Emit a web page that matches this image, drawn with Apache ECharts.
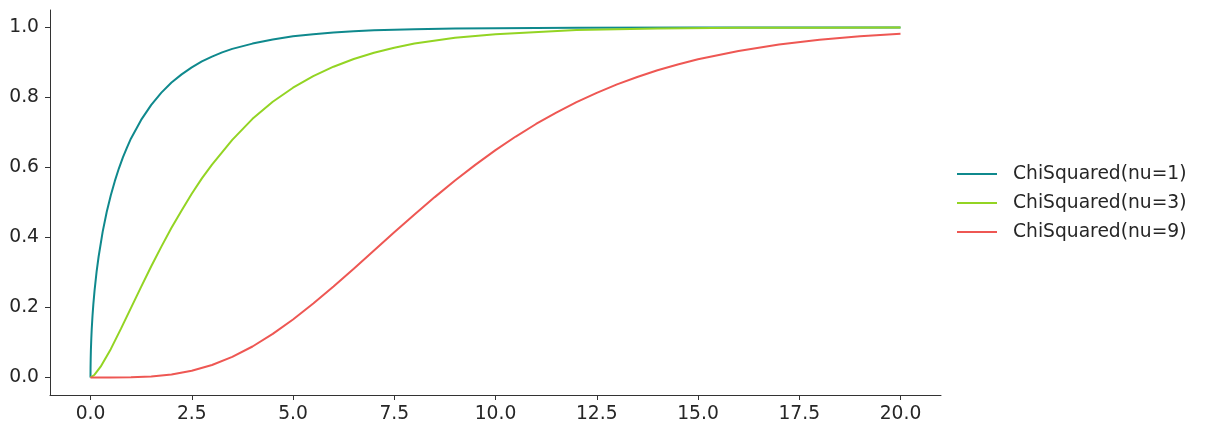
<!DOCTYPE html>
<html>
<head>
<meta charset="utf-8">
<script src="https://cdn.jsdelivr.net/npm/echarts@6/dist/echarts.min.js"></script>
<style>html,body{margin:0;padding:0;background:#fff}#c{width:1206px;height:434px}</style>
</head>
<body>
<div id="c"></div>
<script>
const seriesNames = ['ChiSquared(nu=1)', 'ChiSquared(nu=3)', 'ChiSquared(nu=9)'];
const colors = ['#0f898d', '#93d423', '#ee5753'];
const xTicks = [0, 2.5, 5, 7.5, 10, 12.5, 15, 17.5, 20];
const yTicks = [0, 0.2, 0.4, 0.6, 0.8, 1.0];

const x1 = [0, 0.001, 0.005, 0.01, 0.02, 0.03, 0.05, 0.07, 0.1, 0.15, 0.2, 0.3, 0.4, 0.5, 0.6, 0.7, 0.8, 0.9, 1, 1.25, 1.5, 1.75, 2, 2.25, 2.5, 2.75, 3, 3.25, 3.5, 4, 4.5, 5, 5.5, 6, 6.5, 7, 8, 9, 10, 12, 15, 20];
const y1 = [0, 0.025, 0.056, 0.080, 0.112, 0.138, 0.177, 0.209, 0.248, 0.302, 0.345, 0.416, 0.473, 0.520, 0.561, 0.597, 0.629, 0.657, 0.683, 0.736, 0.779, 0.814, 0.843, 0.866, 0.886, 0.903, 0.917, 0.929, 0.939, 0.954, 0.966, 0.975, 0.981, 0.986, 0.989, 0.992, 0.995, 0.997, 0.998, 0.9995, 0.9999, 1.0];

const x3 = [0, 0.1, 0.25, 0.5, 0.75, 1, 1.25, 1.5, 1.75, 2, 2.25, 2.5, 2.75, 3, 3.5, 4, 4.5, 5, 5.5, 6, 6.5, 7, 7.5, 8, 9, 10, 12, 14, 16, 18, 20];
const y3 = [0, 0.008, 0.031, 0.081, 0.139, 0.199, 0.259, 0.318, 0.374, 0.428, 0.477, 0.525, 0.569, 0.608, 0.679, 0.739, 0.788, 0.828, 0.861, 0.888, 0.910, 0.928, 0.942, 0.954, 0.971, 0.981, 0.993, 0.997, 0.999, 0.9996, 0.9998];

const x9 = [0, 0.5, 1, 1.5, 2, 2.5, 3, 3.5, 4, 4.5, 5, 5.5, 6, 6.5, 7, 7.5, 8, 8.5, 9, 9.5, 10, 10.5, 11, 11.5, 12, 12.5, 13, 13.5, 14, 14.5, 15, 16, 17, 18, 19, 20];
const y9 = [0, 0.0000, 0.0006, 0.0029, 0.0085, 0.0191, 0.0357, 0.0588, 0.0886, 0.1245, 0.1657, 0.2112, 0.2601, 0.3110, 0.3629, 0.4148, 0.4659, 0.5154, 0.5627, 0.6075, 0.6495, 0.6885, 0.7243, 0.7570, 0.7867, 0.8134, 0.8374, 0.8587, 0.8777, 0.8944, 0.9091, 0.9331, 0.9513, 0.9648, 0.9748, 0.9821];

const pairs = (xs, ys) => xs.map((x, i) => [x, ys[i]]);
const data = [pairs(x1, y1), pairs(x3, y3), pairs(x9, y9)];

const font = 'DejaVu Sans';
const fs = 18.7;
const chart = echarts.init(document.getElementById('c'), null, {renderer: 'canvas'});
chart.setOption({
  animation: false,
  backgroundColor: '#ffffff',
  grid: {left: 50, top: 10, width: 891, height: 385, containLabel: false},
  xAxis: {
    type: 'value', min: -1, max: 21,
    axisLine: {show: true, onZero: false, lineStyle: {color: '#333333', width: 1}},
    axisTick: {show: true, length: 5, lineStyle: {color: '#333333'}, customValues: xTicks},
    axisLabel: {color: '#262626', fontFamily: font, fontSize: fs, margin: 10, customValues: xTicks,
      formatter: v => v.toFixed(1)},
    splitLine: {show: false}
  },
  yAxis: {
    type: 'value', min: -0.05, max: 1.05,
    axisLine: {show: true, onZero: false, lineStyle: {color: '#333333', width: 1}},
    axisTick: {show: true, length: 5, lineStyle: {color: '#333333'}, customValues: yTicks},
    axisLabel: {color: '#262626', fontFamily: font, fontSize: fs, margin: 11, customValues: yTicks,
      formatter: v => v.toFixed(1)},
    splitLine: {show: false}
  },
  legend: {
    orient: 'vertical', left: 957, top: 163, padding: 0,
    icon: 'rect', itemWidth: 40, itemHeight: 2, itemGap: 7,
    textStyle: {color: '#262626', fontFamily: font, fontSize: fs, lineHeight: 22, padding: [0, 0, 0, 11]},
    data: seriesNames
  },
  series: seriesNames.map((n, i) => ({
    name: n, type: 'line', data: data[i], smooth: false, symbol: 'none',
    color: colors[i], lineStyle: {color: colors[i], width: 2}
  }))
});
</script>
</body>
</html>
